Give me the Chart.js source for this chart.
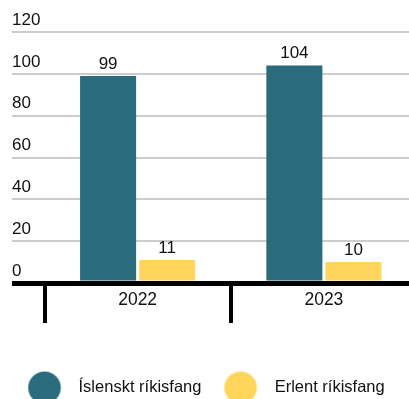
<!DOCTYPE html>
<html lang="is">
<head>
<meta charset="utf-8">
<title>Ríkisfang</title>
<script src="https://cdn.jsdelivr.net/npm/chart.js@4.4.1/dist/chart.umd.min.js"></script>
<style>
  html, body { margin: 0; padding: 0; background: #fff; overflow: hidden; }
  #wrap { position: relative; width: 417px; height: 406px; }
</style>
</head>
<body>
<div id="wrap"><canvas id="chart"></canvas></div>
<script>
const years = ['2022', '2023'];
const seriesNames = ['Íslenskt ríkisfang', 'Erlent ríkisfang'];
const icelandic = [99, 104];
const foreign = [11, 10];
const yMax = 120;
const yStep = 20;

const BLUE = '#2a6b7c';
const YELLOW = '#ffd55b';
const INK = '#111';

Chart.defaults.font.family = '"Liberation Sans", Arial, sans-serif';
Chart.defaults.color = INK;

// round legend markers, bigger than the legend font allows
function makeDot(color) {
  const c = document.createElement('canvas');
  c.width = 60;
  c.height = 34;
  const g = c.getContext('2d');
  g.fillStyle = color;
  g.beginPath();
  g.arc(23.2, 17, 16.3, 0, Math.PI * 2);
  g.fill();
  return c;
}
const legendDots = [makeDot(BLUE), makeDot(YELLOW)];

// numbers above each bar
const barValueLabels = {
  id: 'barValueLabels',
  afterDatasetsDraw(chart) {
    const { ctx } = chart;
    ctx.save();
    ctx.font = '17px "Liberation Sans", Arial, sans-serif';
    ctx.fillStyle = INK;
    ctx.textAlign = 'center';
    ctx.textBaseline = 'alphabetic';
    chart.data.datasets.forEach((ds, i) => {
      chart.getDatasetMeta(i).data.forEach((bar, j) => {
        ctx.fillText(ds.data[j], bar.x, bar.y - 7);
      });
    });
    ctx.restore();
  }
};

new Chart(document.getElementById('chart'), {
  type: 'bar',
  data: {
    labels: years,
    datasets: [
      { label: seriesNames[0], data: icelandic, backgroundColor: BLUE },
      { label: seriesNames[1], data: foreign, backgroundColor: YELLOW }
    ]
  },
  options: {
    responsive: true,
    maintainAspectRatio: false,
    animation: false,
    categoryPercentage: 0.634,
    barPercentage: 0.949,
    layout: { padding: { top: 32, left: 0, right: 0, bottom: 0 } },
    scales: {
      x: {
        afterFit: s => { s.height = 69.5; },
        grid: {
          display: true,
          drawOnChartArea: false,
          drawTicks: true,
          tickLength: 40,
          color: '#000',
          lineWidth: 4
        },
        border: { display: true, color: '#000', width: 5, z: 1 },
        ticks: { font: { size: 17.5 }, color: INK, padding: -33 }
      },
      y: {
        min: 0,
        max: yMax,
        afterFit: s => { s.width = 44.5; },
        grid: {
          color: c => c.tick.value === 0 ? '#000' : '#cccccc',
          lineWidth: c => c.tick.value === 0 ? 5 : 2,
          tickLength: 32.5
        },
        border: { display: false },
        ticks: {
          stepSize: yStep,
          mirror: true,
          crossAlign: 'near',
          labelOffset: -12,
          padding: -32.5,
          font: { size: 17 },
          color: INK
        }
      }
    },
    plugins: {
      tooltip: { enabled: false },
      legend: {
        position: 'bottom',
        labels: {
          usePointStyle: true,
          pointStyleWidth: 38,
          padding: 27,
          color: INK,
          font: { size: 16.5 },
          generateLabels(chart) {
            return Chart.defaults.plugins.legend.labels.generateLabels(chart)
              .map((item, i) => ({ ...item, pointStyle: legendDots[i] }));
          }
        }
      }
    }
  },
  plugins: [barValueLabels]
});
</script>
</body>
</html>
